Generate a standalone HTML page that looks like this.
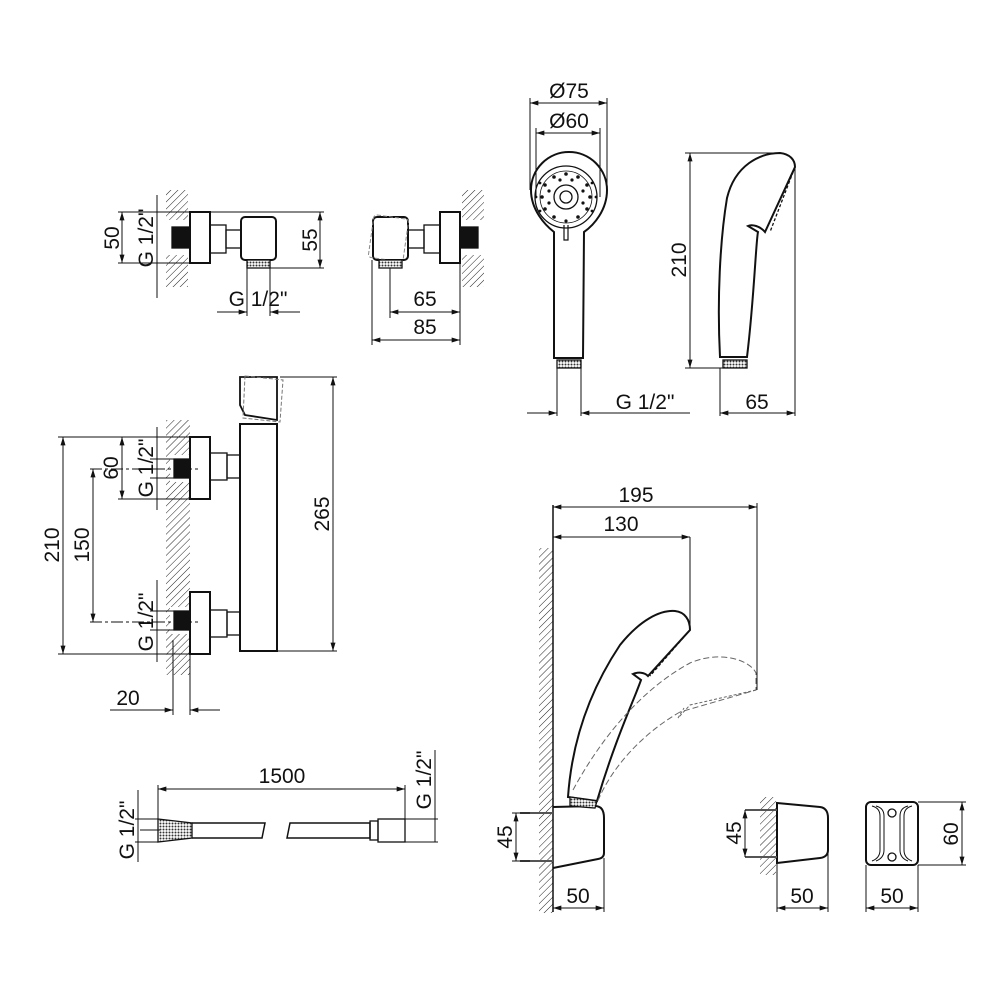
<!DOCTYPE html>
<html><head><meta charset="utf-8"><style>html,body{margin:0;padding:0;background:#fff}svg{display:block}text{font-family:"Liberation Sans",sans-serif;font-size:21px;fill:#111}</style></head><body>
<svg width="1000" height="1000" viewBox="0 0 1000 1000" xmlns="http://www.w3.org/2000/svg">
<defs>
<marker id="a" viewBox="0 0 10 6" refX="10" refY="3" markerWidth="14" markerHeight="5" orient="auto-start-reverse" markerUnits="userSpaceOnUse"><path d="M0,0L10,3L0,6z" fill="#111"/></marker>
<pattern id="h" width="5" height="5" patternUnits="userSpaceOnUse" patternTransform="rotate(45)"><line x1="0" y1="0" x2="0" y2="5" stroke="#222" stroke-width="1"/></pattern>
<pattern id="k" width="3" height="3" patternUnits="userSpaceOnUse"><rect width="3" height="3" fill="#fff"/><circle cx="1.5" cy="1.5" r="1" fill="#333"/></pattern>
</defs>
<g fill="none" stroke="#111" stroke-width="1.3">
<!-- Component 1 -->
<rect x="166" y="190" width="22" height="30" fill="url(#h)" stroke="none"/>
<rect x="166" y="255" width="22" height="32" fill="url(#h)" stroke="none"/>
<rect x="172" y="227" width="18" height="21" fill="#111"/>
<rect x="190" y="212" width="20" height="51" stroke-width="2"/>
<rect x="210" y="225" width="16" height="28"/><rect x="226" y="230" width="15" height="18"/>
<rect x="241" y="217" width="35" height="43" rx="4" stroke-width="2"/>
<rect x="247" y="260" width="23" height="8" fill="url(#k)"/>
<line x1="157" y1="212" x2="190" y2="212" stroke-width="1"/><line x1="157" y1="263" x2="190" y2="263" stroke-width="1"/>
<line x1="122" y1="212" x2="122" y2="263" marker-start="url(#a)" marker-end="url(#a)" stroke-width="1"/>
<line x1="118" y1="212" x2="157" y2="212" stroke-width="1"/><line x1="118" y1="263" x2="157" y2="263" stroke-width="1"/>
<line x1="157" y1="195" x2="157" y2="298" stroke-width="1"/>
<line x1="210" y1="212" x2="324" y2="212" stroke-width="1"/><line x1="270" y1="268" x2="324" y2="268" stroke-width="1"/>
<line x1="320" y1="212" x2="320" y2="268" marker-start="url(#a)" marker-end="url(#a)" stroke-width="1"/>
<line x1="247" y1="268" x2="247" y2="316" stroke-width="1"/><line x1="270" y1="268" x2="270" y2="316" stroke-width="1"/>
<line x1="217" y1="312" x2="247" y2="312" marker-end="url(#a)" stroke-width="1"/><line x1="300" y1="312" x2="270" y2="312" marker-end="url(#a)" stroke-width="1"/>
<!-- Component 2 -->
<rect x="462" y="190" width="22" height="30" fill="url(#h)" stroke="none"/>
<rect x="462" y="255" width="22" height="32" fill="url(#h)" stroke="none"/>
<rect x="460" y="227" width="18" height="21" fill="#111"/>
<rect x="440" y="212" width="20" height="51" stroke-width="2"/>
<rect x="424" y="225" width="16" height="28"/><rect x="408" y="230" width="16" height="18"/>
<rect x="373" y="217" width="35" height="43" rx="4" stroke-width="2"/>
<rect x="371" y="217" width="35" height="43" rx="3" transform="rotate(8 390 238)" stroke="#888" stroke-dasharray="4 2" stroke-width="1"/>
<rect x="379" y="260" width="23" height="8" fill="url(#k)"/>
<line x1="372" y1="260" x2="372" y2="345" stroke-width="1"/><line x1="390" y1="268" x2="390" y2="318" stroke-width="1"/>
<line x1="460" y1="263" x2="460" y2="345" stroke-width="1"/>
<line x1="390" y1="312" x2="460" y2="312" marker-start="url(#a)" marker-end="url(#a)" stroke-width="1"/>
<line x1="372" y1="340" x2="460" y2="340" marker-start="url(#a)" marker-end="url(#a)" stroke-width="1"/>
<!-- Hand shower front -->
<path d="M554,232 C545,225 531,210 531,190 A38,38 0 1 1 607,190 C607,210 594,225 584,232 L583,358 L554,358 Z" stroke-width="2"/>
<circle cx="566" cy="197" r="31"/><circle cx="566" cy="197" r="26" stroke-width="0.8"/>
<circle cx="566" cy="197" r="12"/><circle cx="566" cy="197" r="6"/>
<g fill="#111" stroke="none">
<circle cx="566" cy="174" r="1.8"/><circle cx="578" cy="177" r="1.8"/><circle cx="587" cy="185" r="1.8"/><circle cx="590" cy="197" r="1.8"/><circle cx="587" cy="209" r="1.8"/><circle cx="578" cy="217" r="1.8"/><circle cx="554" cy="217" r="1.8"/><circle cx="545" cy="209" r="1.8"/><circle cx="542" cy="197" r="1.8"/><circle cx="545" cy="185" r="1.8"/><circle cx="554" cy="177" r="1.8"/>
<circle cx="572" cy="180" r="1.6"/><circle cx="560" cy="180" r="1.6"/><circle cx="549" cy="191" r="1.6"/><circle cx="583" cy="191" r="1.6"/><circle cx="549" cy="203" r="1.6"/><circle cx="583" cy="203" r="1.6"/>
<circle cx="566" cy="221" r="1.6"/><circle cx="536" cy="197" r="1.4"/><circle cx="596" cy="197" r="1.4"/><circle cx="540" cy="183" r="1.4"/><circle cx="592" cy="183" r="1.4"/><circle cx="540" cy="211" r="1.4"/><circle cx="592" cy="211" r="1.4"/>
</g>
<path d="M564,225 L564,240 L568,240 L568,225" stroke-width="1.2"/>
<rect x="557" y="360" width="24" height="8" fill="url(#k)"/>
<line x1="557" y1="368" x2="557" y2="416" stroke-width="1"/><line x1="581" y1="368" x2="581" y2="416" stroke-width="1"/>
<line x1="527" y1="413" x2="557" y2="413" marker-end="url(#a)" stroke-width="1"/><line x1="690" y1="413" x2="581" y2="413" marker-end="url(#a)" stroke-width="1"/>
<line x1="530" y1="103" x2="607" y2="103" marker-start="url(#a)" marker-end="url(#a)" stroke-width="1"/>
<line x1="530" y1="98" x2="530" y2="190" stroke-width="1"/><line x1="607" y1="98" x2="607" y2="190" stroke-width="1"/>
<line x1="536" y1="133" x2="600" y2="133" marker-start="url(#a)" marker-end="url(#a)" stroke-width="1"/>
<line x1="536" y1="128" x2="536" y2="197" stroke-width="1"/><line x1="600" y1="128" x2="600" y2="197" stroke-width="1"/>
<!-- Hand shower side -->
<path d="M720,357 C717,300 720,240 727,198 C735,165 760,153 780,153 C790,154 795,160 795,167 L765,232 C760,226 752,224 748,226 L758,232 C756,240 754,300 747,357 Z" stroke-width="2"/>
<path d="M795,167 L770,232" stroke-dasharray="3 2"/>
<rect x="723" y="360" width="24" height="8" fill="url(#k)"/>
<line x1="685" y1="153" x2="780" y2="153" stroke-width="1"/><line x1="685" y1="368" x2="723" y2="368" stroke-width="1"/>
<line x1="690" y1="153" x2="690" y2="368" marker-start="url(#a)" marker-end="url(#a)" stroke-width="1"/>
<line x1="795" y1="165" x2="795" y2="416" stroke-width="1"/><line x1="720" y1="368" x2="720" y2="416" stroke-width="1"/>
<line x1="720" y1="413" x2="795" y2="413" marker-start="url(#a)" marker-end="url(#a)" stroke-width="1"/>
<!-- Thermostat -->
<rect x="166" y="420" width="24" height="255" fill="url(#h)" stroke="none"/>
<rect x="170" y="455" width="20" height="27" fill="#fff" stroke="none"/><rect x="170" y="607" width="20" height="27" fill="#fff" stroke="none"/>
<rect x="174" y="459" width="16" height="19" fill="#111"/><rect x="174" y="611" width="16" height="19" fill="#111"/>
<rect x="190" y="437" width="20" height="62" stroke-width="2"/><rect x="190" y="592" width="20" height="62" stroke-width="2"/>
<rect x="210" y="453" width="17" height="27"/><rect x="227" y="455" width="13" height="23"/>
<rect x="210" y="610" width="17" height="27"/><rect x="227" y="612" width="13" height="23"/>
<rect x="240" y="424" width="37" height="227" stroke-width="2"/>
<path d="M240,377 L277,377 L277,420 L245,415 L240,405 Z" stroke-width="1.8"/>
<path d="M245,376 L283,380 L280,422 L243,418 Z" stroke="#777" stroke-dasharray="4 2" stroke-width="1"/>
<line x1="280" y1="377" x2="337" y2="377" stroke-width="1"/><line x1="277" y1="651" x2="337" y2="651" stroke-width="1"/>
<line x1="333" y1="377" x2="333" y2="651" marker-start="url(#a)" marker-end="url(#a)" stroke-width="1"/>
<line x1="58" y1="437" x2="190" y2="437" stroke-width="1"/><line x1="58" y1="654" x2="190" y2="654" stroke-width="1"/>
<line x1="63" y1="437" x2="63" y2="654" marker-start="url(#a)" marker-end="url(#a)" stroke-width="1"/>
<line x1="90" y1="469" x2="198" y2="469" stroke-width="1" stroke-dasharray="12 3 3 3"/><line x1="90" y1="622" x2="198" y2="622" stroke-width="1" stroke-dasharray="12 3 3 3"/>
<line x1="93" y1="469" x2="93" y2="622" marker-start="url(#a)" marker-end="url(#a)" stroke-width="1"/>
<line x1="118" y1="499" x2="190" y2="499" stroke-width="1"/>
<line x1="122" y1="437" x2="122" y2="499" marker-start="url(#a)" marker-end="url(#a)" stroke-width="1"/>
<line x1="150" y1="459" x2="174" y2="459" stroke-width="1"/><line x1="150" y1="478" x2="174" y2="478" stroke-width="1"/>
<line x1="150" y1="611" x2="174" y2="611" stroke-width="1"/><line x1="150" y1="630" x2="174" y2="630" stroke-width="1"/>
<line x1="157" y1="427" x2="157" y2="510" stroke-width="1"/><line x1="157" y1="580" x2="157" y2="662" stroke-width="1"/>
<line x1="173" y1="640" x2="173" y2="715" stroke-width="1"/><line x1="190" y1="654" x2="190" y2="715" stroke-width="1"/>
<line x1="110" y1="710" x2="173" y2="710" marker-end="url(#a)" stroke-width="1"/><line x1="220" y1="710" x2="190" y2="710" marker-end="url(#a)" stroke-width="1"/>
<!-- Hose -->
<path d="M158,819 L192,823 L192,838 L158,842 Z" fill="url(#k)"/>
<path d="M192,823 L265,823 L262,838 L192,838" stroke-width="1.5"/>
<path d="M290,823 L370,823 L370,838 L287,838 Z" stroke-width="1.5"/>
<rect x="370" y="821" width="8" height="19"/><rect x="378" y="819" width="27" height="23"/>
<line x1="158" y1="785" x2="158" y2="819" stroke-width="1"/><line x1="405" y1="785" x2="405" y2="819" stroke-width="1"/>
<line x1="158" y1="789" x2="405" y2="789" marker-start="url(#a)" marker-end="url(#a)" stroke-width="1"/>
<line x1="135" y1="819" x2="158" y2="819" stroke-width="1"/><line x1="135" y1="842" x2="158" y2="842" stroke-width="1"/>
<line x1="138" y1="790" x2="138" y2="862" stroke-width="1"/><line x1="140" y1="830" x2="160" y2="830" stroke-width="1"/>
<line x1="405" y1="819" x2="438" y2="819" stroke-width="1"/><line x1="405" y1="842" x2="438" y2="842" stroke-width="1"/>
<line x1="435" y1="750" x2="435" y2="842" stroke-width="1"/>
<!-- Holder assembly -->
<rect x="539" y="548" width="14" height="365" fill="url(#h)" stroke="none"/>
<line x1="553" y1="505" x2="553" y2="912" stroke-width="1.5"/>
<line x1="553" y1="507" x2="757" y2="507" marker-start="url(#a)" marker-end="url(#a)" stroke-width="1"/>
<line x1="553" y1="537" x2="690" y2="537" marker-start="url(#a)" marker-end="url(#a)" stroke-width="1"/>
<line x1="690" y1="537" x2="690" y2="630" stroke-width="1"/><line x1="757" y1="503" x2="757" y2="690" stroke-width="1"/>
<path d="M553,807 L595,806 Q604,806 604,818 L604,853 Q604,858 598,859 L553,868" stroke-width="2"/>
<path d="M568,797 C572,740 590,690 620,645 C640,620 660,610 675,611 C685,612 690,620 690,630 L648,676 C644,672 638,672 633,674 L641,680 C634,700 615,740 597,801 Z" stroke-width="2"/>
<path d="M570,797 L597,801 L595,808 L570,806 Z" fill="url(#k)"/>
<path d="M690,630 L650,676" stroke-dasharray="3 2"/>
<path d="M573,790 C600,740 640,690 690,663 C720,650 750,660 756,673 L756,690 L680,712 M680,712 C640,735 610,770 597,803" stroke="#666" stroke-width="1" stroke-dasharray="6 3"/>
<path d="M756,690 L690,705 L678,718 L684,708" stroke="#666" stroke-width="1" stroke-dasharray="3 2"/>
<line x1="520" y1="813" x2="553" y2="813" stroke-width="2" stroke="#555"/><line x1="520" y1="861" x2="553" y2="861" stroke-width="2" stroke="#555"/>
<line x1="512" y1="813" x2="530" y2="813" stroke-width="1"/><line x1="512" y1="861" x2="530" y2="861" stroke-width="1"/>
<line x1="516" y1="813" x2="516" y2="861" marker-start="url(#a)" marker-end="url(#a)" stroke-width="1"/>
<line x1="604" y1="858" x2="604" y2="912" stroke-width="1"/>
<line x1="553" y1="908" x2="604" y2="908" marker-start="url(#a)" marker-end="url(#a)" stroke-width="1"/>
<!-- Holder side -->
<rect x="760" y="797" width="16" height="78" fill="url(#h)" stroke="none"/>
<path d="M777,803 L820,807 Q828,808 828,818 L828,850 Q828,857 820,858 L777,863 Z" stroke-width="2"/>
<line x1="745" y1="810" x2="777" y2="810" stroke-width="2" stroke="#555"/><line x1="745" y1="857" x2="777" y2="857" stroke-width="2" stroke="#555"/>
<line x1="745" y1="810" x2="745" y2="857" marker-start="url(#a)" marker-end="url(#a)" stroke-width="1"/>
<line x1="777" y1="863" x2="777" y2="912" stroke-width="1"/><line x1="828" y1="850" x2="828" y2="912" stroke-width="1"/>
<line x1="777" y1="908" x2="828" y2="908" marker-start="url(#a)" marker-end="url(#a)" stroke-width="1"/>
<!-- Holder front -->
<rect x="866" y="802" width="52" height="63" rx="5" stroke-width="2"/>
<path d="M872,806 Q880,808 880,816 L880,850 Q880,858 872,861 M912,806 Q904,808 904,816 L904,850 Q904,858 912,861" stroke-width="1"/>
<path d="M876,806 Q884,808 884,816 L884,850 Q884,858 876,861 M908,806 Q900,808 900,816 L900,850 Q900,858 908,861" stroke-width="1"/>
<circle cx="892" cy="813" r="4"/><circle cx="892" cy="857" r="4"/>
<line x1="918" y1="802" x2="966" y2="802" stroke-width="1"/><line x1="918" y1="865" x2="966" y2="865" stroke-width="1"/>
<line x1="962" y1="802" x2="962" y2="865" marker-start="url(#a)" marker-end="url(#a)" stroke-width="1"/>
<line x1="866" y1="865" x2="866" y2="912" stroke-width="1"/><line x1="918" y1="865" x2="918" y2="912" stroke-width="1"/>
<line x1="866" y1="908" x2="918" y2="908" marker-start="url(#a)" marker-end="url(#a)" stroke-width="1"/>
</g>
<!-- Text -->
<text transform="translate(119,238) rotate(-90)" text-anchor="middle">50</text>
<text transform="translate(153,238) rotate(-90)" text-anchor="middle">G 1/2"</text>
<text transform="translate(317,240) rotate(-90)" text-anchor="middle">55</text>
<text x="258" y="306" text-anchor="middle">G 1/2"</text>
<text x="425" y="306" text-anchor="middle">65</text>
<text x="425" y="334" text-anchor="middle">85</text>
<text x="569" y="98" text-anchor="middle">Ø75</text>
<text x="569" y="128" text-anchor="middle">Ø60</text>
<text x="645" y="409" text-anchor="middle">G 1/2"</text>
<text transform="translate(686,260) rotate(-90)" text-anchor="middle">210</text>
<text x="757" y="409" text-anchor="middle">65</text>
<text transform="translate(329,514) rotate(-90)" text-anchor="middle">265</text>
<text transform="translate(59,545) rotate(-90)" text-anchor="middle">210</text>
<text transform="translate(89,545) rotate(-90)" text-anchor="middle">150</text>
<text transform="translate(118,468) rotate(-90)" text-anchor="middle">60</text>
<text transform="translate(153,468) rotate(-90)" text-anchor="middle">G 1/2"</text>
<text transform="translate(153,622) rotate(-90)" text-anchor="middle">G 1/2"</text>
<text x="128" y="705" text-anchor="middle">20</text>
<text x="282" y="783" text-anchor="middle">1500</text>
<text transform="translate(134,830) rotate(-90)" text-anchor="middle">G 1/2"</text>
<text transform="translate(431,780) rotate(-90)" text-anchor="middle">G 1/2"</text>
<text x="636" y="502" text-anchor="middle">195</text>
<text x="621" y="531" text-anchor="middle">130</text>
<text transform="translate(512,837) rotate(-90)" text-anchor="middle">45</text>
<text x="578" y="903" text-anchor="middle">50</text>
<text transform="translate(741,833) rotate(-90)" text-anchor="middle">45</text>
<text x="802" y="903" text-anchor="middle">50</text>
<text transform="translate(958,834) rotate(-90)" text-anchor="middle">60</text>
<text x="892" y="903" text-anchor="middle">50</text>
</svg>
</body></html>
